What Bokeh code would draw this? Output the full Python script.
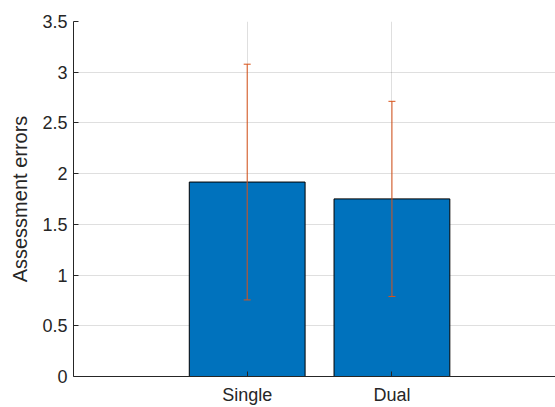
from bokeh.plotting import figure
from bokeh.models import ColumnDataSource, Range1d, FixedTicker, Whisker, TeeHead
from bokeh.embed import file_html
from bokeh.resources import INLINE

categories = ["Single", "Dual"]
means = [1.917, 1.751]
errors = [1.162, 0.962]
y_ticks = [0, 0.5, 1, 1.5, 2, 2.5, 3, 3.5]

xs = [i + 1 for i in range(len(categories))]
src = ColumnDataSource(dict(
    x=xs, top=means,
    upper=[m + e for m, e in zip(means, errors)],
    lower=[m - e for m, e in zip(means, errors)],
))

TXT = "#262626"
FONT = "Liberation Sans"

p = figure(width=555, height=407, output_backend="svg", toolbar_location=None,
           x_range=Range1d(-0.2, 3.13), y_range=Range1d(0, 3.5),
           min_border_left=73, min_border_right=0, min_border_top=21, min_border_bottom=29)
p.outline_line_color = None
p.background_fill_color = "white"
p.border_fill_color = "white"

p.vbar(x="x", top="top", width=0.8, bottom=0, source=src,
       fill_color="#0072BD", line_color="black", line_width=1)

w = Whisker(base="x", upper="upper", lower="lower", source=src,
            line_color="#D95319", line_width=1, level="overlay",
            upper_head=TeeHead(size=7, line_color="#D95319", line_width=1),
            lower_head=TeeHead(size=7, line_color="#D95319", line_width=1))
p.add_layout(w)

p.xaxis.ticker = FixedTicker(ticks=xs)
p.xaxis.major_label_overrides = {x: c for x, c in zip(xs, categories)}
p.yaxis.ticker = FixedTicker(ticks=y_ticks)
p.yaxis.major_label_overrides = {0: "0", 1: "1", 2: "2", 3: "3"}

for ax in (p.xaxis, p.yaxis):
    ax.axis_line_color = TXT
    ax.axis_line_width = 1
    ax.major_tick_line_color = TXT
    ax.major_tick_in = 5
    ax.major_tick_out = 0
    ax.minor_tick_line_color = None
    ax.major_label_text_font = FONT
    ax.major_label_text_font_size = "18px"
    ax.major_label_text_color = TXT

p.xaxis.major_label_standoff = 8
p.yaxis.major_label_standoff = 6

p.yaxis.axis_label = "Assessment errors"
p.yaxis.axis_label_text_font = FONT
p.yaxis.axis_label_text_font_size = "20px"
p.yaxis.axis_label_text_font_style = "normal"
p.yaxis.axis_label_text_color = TXT
p.yaxis.axis_label_standoff = 8

p.grid.grid_line_color = TXT
p.grid.grid_line_alpha = 0.15
p.grid.grid_line_width = 1

open("out.html", "w").write(file_html(p, INLINE))
